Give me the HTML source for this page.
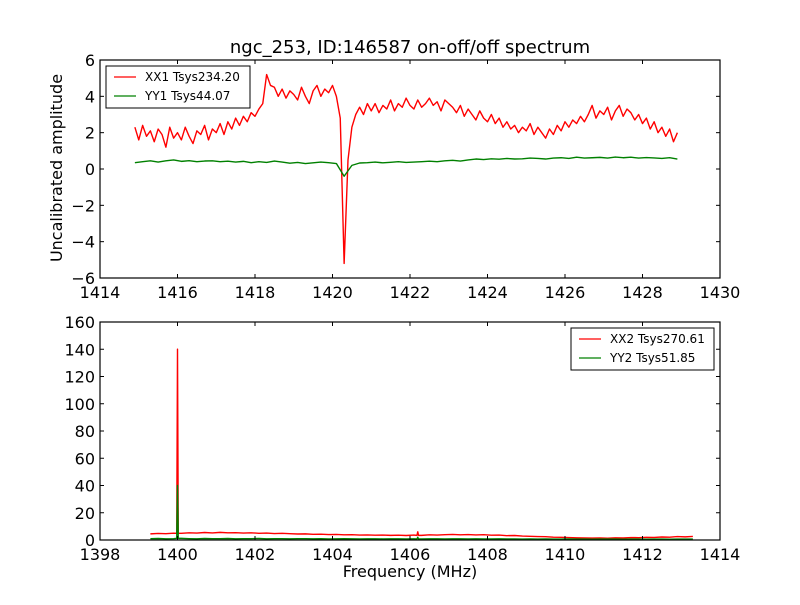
<!DOCTYPE html>
<html><head><meta charset="utf-8"><style>
body{margin:0;background:#fff;}
svg text{font-family:"DejaVu Sans","Liberation Sans",sans-serif;}
</style></head><body>
<svg id="chart" width="800" height="600" viewBox="0 0 800 600" xmlns="http://www.w3.org/2000/svg">
<rect width="800" height="600" fill="#fff"/>
<text x="410" y="53" font-size="18" text-anchor="middle">ngc_253, ID:146587 on-off/off spectrum</text>
<text transform="translate(62,168) rotate(-90)" font-size="16" text-anchor="middle">Uncalibrated amplitude</text>
<text x="410" y="577" font-size="16" text-anchor="middle">Frequency (MHz)</text>
<g id="top"></g>
<g id="bot"></g>
</svg>
<script>
const xx1Start = 1414.9, xx1Step = 0.1;
const xx1Values = [2.3,
1.6,2.4,1.8,2.1,1.5,2.2,1.9,1.2,2.3,1.7,
2.0,1.6,2.3,1.8,1.4,2.1,1.9,2.4,1.6,2.2,
2.0,2.5,1.9,2.6,2.2,2.8,2.4,2.9,2.6,3.1,
2.9,3.3,3.6,5.2,4.6,4.5,4.0,4.4,3.9,4.3,
4.1,3.8,4.5,4.0,3.6,4.3,4.6,4.0,4.4,4.2,
4.6,4.0,2.8,-5.2,0.5,2.3,3.0,3.4,3.0,3.6,
3.2,3.6,3.1,3.5,3.3,3.8,3.2,3.6,3.4,3.9,
3.5,3.3,3.8,3.4,3.6,3.9,3.5,3.7,3.2,3.8,
3.6,3.4,3.1,3.5,2.9,3.3,3.0,2.7,3.2,2.8,
2.6,3.0,2.5,2.8,2.3,2.6,2.2,2.4,2.0,2.3,
2.1,2.5,1.9,2.3,2.0,1.7,2.2,1.9,2.4,2.1,
2.6,2.3,2.7,2.5,2.9,2.6,3.0,3.5,2.8,3.2,
3.0,3.4,2.7,3.2,3.5,2.9,3.3,3.1,2.7,3.0,
2.5,2.8,2.2,2.6,2.0,2.3,1.8,2.2,1.5,2.0];
const yy1Start = 1414.9, yy1Step = 0.2;
const yy1Values = [0.35,0.40,0.45,0.38,0.45,0.50,0.42,0.46,0.40,0.44,
0.45,0.40,0.43,0.38,0.42,0.35,0.40,0.36,0.44,0.38,
0.32,0.36,0.30,0.34,0.38,0.35,0.30,-0.40,0.20,0.33,
0.35,0.38,0.34,0.37,0.40,0.36,0.38,0.40,0.43,0.40,
0.45,0.48,0.44,0.50,0.55,0.52,0.56,0.54,0.58,0.55,
0.56,0.60,0.58,0.55,0.60,0.62,0.58,0.65,0.60,0.62,
0.64,0.60,0.66,0.62,0.65,0.60,0.63,0.61,0.58,0.62,0.55];
const bStart = 1399.3, bStep = 0.2;
const xx2Values = [4.5,4.8,4.6,5.0,4.9,5.3,5.1,5.5,5.2,5.6,
5.3,5.4,5.1,5.3,4.9,5.1,4.7,4.9,4.6,4.4,
4.5,4.2,4.3,4.0,4.1,3.8,3.9,3.6,3.7,3.5,
3.6,3.4,3.5,3.3,3.6,3.4,3.8,3.6,3.9,4.1,
3.8,4.0,3.7,3.9,3.5,3.6,3.2,3.3,2.9,2.7,
2.5,2.4,2.1,2.0,1.8,1.6,1.5,1.4,1.5,1.3,
1.6,1.5,1.8,1.7,2.0,1.9,2.2,2.1,2.5,2.3,2.6];
const yy2Values = [1.0,1.1,0.9,1.0,1.2,1.0,0.9,1.1,1.0,1.0,
1.1,0.9,1.0,1.0,1.1,0.9,1.0,1.0,0.9,1.0,
1.0,0.9,1.0,0.8,0.9,1.0,0.9,0.8,0.9,0.9,
0.8,0.9,0.9,0.8,0.9,0.8,0.9,0.9,0.8,0.9,
0.9,0.8,0.9,0.8,0.8,0.9,0.8,0.8,0.7,0.8,
0.7,0.8,0.7,0.7,0.8,0.7,0.7,0.6,0.7,0.7,
0.7,0.6,0.7,0.7,0.6,0.7,0.7,0.6,0.7,0.7,0.7];
const spikeFreqs = [1400.0, 1406.2];
const spikeXX2 = [140, 6];
const spikeYY2 = [40, 2];
const topXTicks = [1414,1416,1418,1420,1422,1424,1426,1428,1430];
const topYTicks = [-6,-4,-2,0,2,4,6];
const botXTicks = [1398,1400,1402,1404,1406,1408,1410,1412,1414];
const botYTicks = [0,20,40,60,80,100,120,140,160];

const NS="http://www.w3.org/2000/svg";
function mk(tag, parent, attrs){const e=document.createElementNS(NS,tag);for(const k in attrs)e.setAttribute(k,attrs[k]);parent.appendChild(e);return e;}

function axes(g, box, xd, yd, xt, yt, name){
  const sx=v=>box.x+(v-xd[0])/(xd[1]-xd[0])*box.w;
  const sy=v=>box.y+box.h-(v-yd[0])/(yd[1]-yd[0])*box.h;
  const clip=mk('clipPath',g,{id:'clip-'+name});
  mk('rect',clip,{x:box.x,y:box.y,width:box.w,height:box.h});
  const plot=mk('g',g,{'clip-path':'url(#clip-'+name+')'});
  
  
  xt.forEach(t=>{
    const x=sx(t);
    const a=mk('line',g,{x1:x,x2:x,y1:box.y+box.h,y2:box.y+box.h-4,stroke:'#000'});
    
    
    mk('line',g,{x1:x,x2:x,y1:box.y,y2:box.y+4,stroke:'#000'});
    const l=mk('text',g,{x:x,y:box.y+box.h+20,'font-size':16,'text-anchor':'middle'});
    l.textContent=t;
    
    
  });
  yt.forEach(t=>{
    const y=sy(t);
    const a=mk('line',g,{x1:box.x,x2:box.x+4,y1:y,y2:y,stroke:'#000'});
    
    
    mk('line',g,{x1:box.x+box.w,x2:box.x+box.w-4,y1:y,y2:y,stroke:'#000'});
    const l=mk('text',g,{x:box.x-5,y:y+6,'font-size':16,'text-anchor':'end'});
    l.textContent=String(t).replace('-','\u2212');
    
    
  });
  const fr=mk('rect',g,{x:box.x,y:box.y,width:box.w,height:box.h,fill:'none',stroke:'#000','stroke-width':1.2});
  
  
  return {sx,sy,plot};
}
function line(ax, xs, ys, color, name){
  const d=xs.map((x,i)=>(i?'L':'M')+ax.sx(x).toFixed(2)+','+ax.sy(ys[i]).toFixed(2)).join('');
  const p=mk('path',ax.plot,{d:d,fill:'none',stroke:color,'stroke-width':1.4,'stroke-linejoin':'round'});
  
  
}
function legend(g, x, y, w, entries, name){
  const lg=mk('g',g,{});
  
  
  mk('rect',lg,{x:x,y:y,width:w,height:42,fill:'#fff',stroke:'#000','stroke-width':1});
  entries.forEach((e,i)=>{
    const yy=y+11+i*19;
    mk('line',lg,{x1:x+8,x2:x+30,y1:yy,y2:yy,stroke:e[1],'stroke-width':1.2});
    const t=mk('text',lg,{x:x+39,y:yy+4,'font-size':12});
    t.textContent=e[0];
    
    
  });
}
const tg=document.getElementById('top');
const ta=axes(tg,{x:100,y:60,w:620,h:218},[1414,1430],[-6,6],topXTicks,topYTicks,'top');
line(ta, xx1Values.map((v,i)=>xx1Start+i*xx1Step), xx1Values, '#ff0000', 'xx1-series');
line(ta, yy1Values.map((v,i)=>yy1Start+i*yy1Step), yy1Values, '#008000', 'yy1-series');
legend(tg,106,66,144,[['XX1 Tsys234.20','#ff0000'],['YY1 Tsys44.07','#008000']],'top-legend');
const bg=document.getElementById('bot');
const ba=axes(bg,{x:100,y:322,w:620,h:218},[1398,1414],[0,160],botXTicks,botYTicks,'bottom');
function merged(vals, spikes){
  const pts=vals.map((v,i)=>[bStart+i*bStep,v]);
  spikeFreqs.forEach((f,k)=>{const b=vals[Math.round((f-bStart)/bStep)];pts.push([f-0.02,b]);pts.push([f,spikes[k]]);pts.push([f+0.02,b]);});
  pts.sort((a,b)=>a[0]-b[0]);
  return pts;
}
const m2=merged(xx2Values,spikeXX2);
line(ba, m2.map(p=>p[0]), m2.map(p=>p[1]), '#ff0000', 'xx2-series');
const m3=merged(yy2Values,spikeYY2);
line(ba, m3.map(p=>p[0]), m3.map(p=>p[1]), '#008000', 'yy2-series');
legend(bg,571,328,143,[['XX2 Tsys270.61','#ff0000'],['YY2 Tsys51.85','#008000']],'bottom-legend');
</script>
</body></html>
